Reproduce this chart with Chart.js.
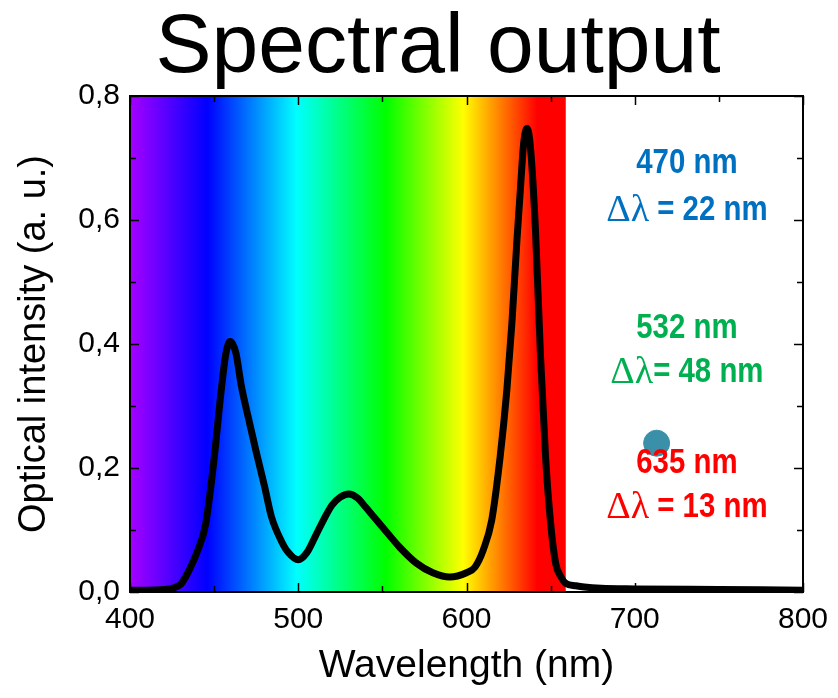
<!DOCTYPE html>
<html>
<head>
<meta charset="utf-8">
<script src="https://cdn.jsdelivr.net/npm/chart.js@4.4.1/dist/chart.umd.min.js"></script>
<style>
  html, body { margin: 0; padding: 0; background: #fff; }
  canvas { display: block; }
</style>
</head>
<body>
<canvas id="spectrumChart" width="838" height="698"></canvas>
<script>
// Spectrum (wavelength in nm, intensity in a. u.)
const wavelengths = [400, 410, 420, 425, 430, 433, 436, 440, 445, 450, 454, 457, 459.5, 461, 463, 466, 470, 475, 480, 484, 490, 494,
    500, 505, 510, 515, 520, 525, 530, 535, 540, 545, 550, 560, 570, 580, 590, 600, 605, 610, 615, 620,
    624, 627, 630, 632, 634, 636, 638, 641, 644, 647, 650, 653, 656, 659, 665, 670, 680, 700, 750, 800];
const intensities = [0.003, 0.003, 0.004, 0.006, 0.012, 0.024, 0.040, 0.065, 0.110, 0.215, 0.320, 0.385, 0.404, 0.400, 0.385, 0.335, 0.285, 0.226, 0.170, 0.122, 0.082, 0.064,
    0.052, 0.063, 0.089, 0.116, 0.140, 0.153, 0.158, 0.152, 0.137, 0.121, 0.105, 0.073, 0.047, 0.031, 0.024, 0.031, 0.040, 0.068, 0.116, 0.218,
    0.326, 0.434, 0.568, 0.648, 0.724, 0.748, 0.718, 0.584, 0.380, 0.218, 0.111, 0.046, 0.025, 0.014, 0.010, 0.008, 0.006, 0.005, 0.004, 0.003];

// Marker dot
const dotPoint = [{ x: 713, y: 0.24 }];

// Rainbow background: wavelength stops and colours
const rainbowStops = [400, 446, 499, 552, 598, 642, 659];
const rainbowColors = ['#a600ff', '#0000ff', '#00ffff', '#00ff00', '#ffff00', '#ff0000', '#ff0000'];

// Peak labels
const labelLines = [
    { head: '', text: '470 nm', color: '#0070c0', y: 0.692 },
    { head: 'Δλ', text: ' = 22 nm', color: '#0070c0', y: 0.616 },
    { head: '', text: '532 nm', color: '#00b050', y: 0.426 },
    { head: 'Δλ', text: '= 48 nm', color: '#00b050', y: 0.355 },
    { head: '', text: '635 nm', color: '#ff0000', y: 0.208 },
    { head: 'Δλ', text: ' = 13 nm', color: '#ff0000', y: 0.137 }
];
const labelX = 731;

const chartTitle = 'Spectral output';

const sans = "'Liberation Sans', Arial, sans-serif";
const serif = "'Liberation Serif', 'Times New Roman', serif";

const fmtComma = v => v.toFixed(1).replace('.', ',');

// Paint the visible spectrum behind the data
const rainbowPlugin = {
    id: 'rainbow',
    beforeDatasetsDraw(chart) {
        const { ctx, chartArea, scales } = chart;
        const first = rainbowStops[0], last = rainbowStops[rainbowStops.length - 1];
        const x0 = scales.x.getPixelForValue(first);
        const x1 = scales.x.getPixelForValue(last);
        const grad = ctx.createLinearGradient(x0, 0, x1, 0);
        rainbowStops.forEach((w, i) => grad.addColorStop((w - first) / (last - first), rainbowColors[i]));
        ctx.save();
        ctx.fillStyle = grad;
        ctx.fillRect(x0, chartArea.top, x1 - x0, chartArea.bottom - chartArea.top);
        ctx.restore();
    }
};

// Frame with inward ticks on all four sides, title and the peak labels
const framePlugin = {
    id: 'frame',
    afterDraw(chart) {
        const { ctx, chartArea: a, scales } = chart;
        ctx.save();
        ctx.strokeStyle = '#000';
        ctx.lineWidth = 2;
        ctx.strokeRect(a.left, a.top, a.right - a.left, a.bottom - a.top);

        ctx.beginPath();
        for (let w = 400; w <= 800; w += 50) {
            const px = Math.round(scales.x.getPixelForValue(w)) + 0.5;
            const len = w % 100 === 0 ? 9 : 6;
            ctx.moveTo(px, a.bottom); ctx.lineTo(px, a.bottom - len);
            ctx.moveTo(px, a.top); ctx.lineTo(px, a.top + len);
        }
        for (let i = 0; i <= 8; i++) {
            const py = Math.round(scales.y.getPixelForValue(i / 10)) + 0.5;
            const len = i % 2 === 0 ? 9 : 6;
            ctx.moveTo(a.left, py); ctx.lineTo(a.left + len, py);
            ctx.moveTo(a.right, py); ctx.lineTo(a.right - len, py);
        }
        ctx.lineWidth = 1.5;
        ctx.stroke();

        // title
        ctx.fillStyle = '#000';
        ctx.font = '84px ' + sans;
        ctx.textAlign = 'center';
        ctx.textBaseline = 'alphabetic';
        ctx.fillText(chartTitle, 438, 72);

        // labels: condensed bold text, Greek part in serif
        const cx = scales.x.getPixelForValue(labelX);
        const squeeze = 0.84;
        ctx.textBaseline = 'middle';
        ctx.textAlign = 'left';
        labelLines.forEach(l => {
            const cy = scales.y.getPixelForValue(l.y);
            ctx.fillStyle = l.color;
            ctx.font = '38px ' + serif;
            const wHead = l.head ? ctx.measureText(l.head).width : 0;
            ctx.font = 'bold 35px ' + sans;
            const wText = ctx.measureText(l.text).width * squeeze;
            let x = cx - (wHead + wText) / 2;
            if (l.head) {
                ctx.font = '38px ' + serif;
                ctx.fillText(l.head, x, cy + 1);
                x += wHead;
            }
            ctx.save();
            ctx.translate(x, cy);
            ctx.scale(squeeze, 1);
            ctx.font = 'bold 35px ' + sans;
            ctx.fillText(l.text, 0, 0);
            ctx.restore();
        });
        ctx.restore();
    }
};

const ctx = document.getElementById('spectrumChart').getContext('2d');
const spectrumChart = new Chart(ctx, {
    type: 'line',
    data: {
        datasets: [{
            label: 'Dot',
            type: 'scatter',
            data: dotPoint,
            backgroundColor: '#3a90a8',
            borderColor: '#3a90a8',
            pointRadius: 13,
            order: 0
        }, {
            label: 'Optical intensity',
            data: wavelengths.map((w, i) => ({ x: w, y: intensities[i] })),
            borderColor: '#000',
            borderWidth: 7,
            pointRadius: 0,
            fill: false,
            cubicInterpolationMode: 'monotone',
            order: 1
        }]
    },
    options: {
        responsive: false,
        animation: false,
        devicePixelRatio: 1,
        layout: { padding: { left: 0, right: 35, top: 96, bottom: 0 } },
        plugins: {
            legend: { display: false },
            tooltip: { enabled: false },
            title: { display: false }
        },
        scales: {
            x: {
                type: 'linear',
                min: 400,
                max: 800,
                grid: { display: false },
                border: { display: false },
                ticks: {
                    stepSize: 100,
                    color: '#000',
                    font: { family: sans, size: 30 },
                    padding: 2,
                    maxRotation: 0
                },
                title: {
                    display: true,
                    text: 'Wavelength (nm)',
                    color: '#000',
                    font: { family: sans, size: 39 },
                    padding: { top: 0, bottom: 8 }
                },
                afterFit(scale) { scale.height = 106; }
            },
            y: {
                min: 0,
                max: 0.8,
                grid: { display: false },
                border: { display: false },
                ticks: {
                    stepSize: 0.2,
                    color: '#000',
                    font: { family: sans, size: 30 },
                    padding: 2,
                    callback: v => fmtComma(v)
                },
                title: {
                    display: true,
                    text: 'Optical intensity (a. u.)',
                    color: '#000',
                    font: { family: sans, size: 38 },
                    padding: { top: 12, bottom: 0 }
                },
                afterFit(scale) { scale.width = 130; }
            }
        }
    },
    plugins: [rainbowPlugin, framePlugin]
});
</script>
</body>
</html>
